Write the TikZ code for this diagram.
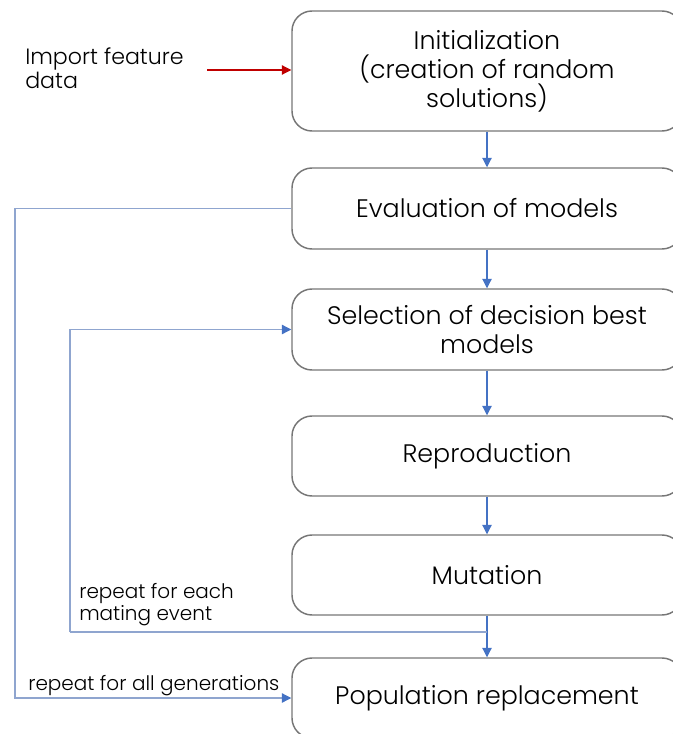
\documentclass[tikz,border=0pt]{standalone}
\usepackage{fontspec}
\setmainfont{Poppins Light}
\usetikzlibrary{arrows.meta}
\definecolor{flowblue}{HTML}{4472C4}
\definecolor{loopblue}{HTML}{8FA5CF}
\definecolor{importred}{HTML}{C00000}
\definecolor{boxgray}{HTML}{767676}
\tikzset{
  stage/.style={draw=boxgray, line width=1.1pt, rounded corners=15pt,
    minimum width=292.5pt, align=center, inner sep=0pt,
    font=\fontsize{19}{21.7}\selectfont},
  tip/.style={-{Triangle[length=7pt,width=7pt,color=flowblue]}},
  flowarrow/.style={draw=flowblue, line width=0.8pt, tip},
  loopline/.style={draw=loopblue, line width=0.9pt},
  note/.style={align=left, inner sep=0pt, font=\fontsize{15}{16.5}\selectfont}
}
\begin{document}
\begin{tikzpicture}[x=0.75pt,y=-0.75pt]
\useasboundingbox (0,0) rectangle (673,734);
\clip (0,0) rectangle (673,734);
% process stages
\node[stage, minimum height=90pt] (init) at (487,71)
  {Initialization\\(creation of random\\solutions)};
\node[stage, minimum height=60.75pt] (eval) at (487,208.5) {Evaluation of models};
\node[stage, minimum height=60.75pt] (sel) at (487,329.5) {Selection of decision best\\models};
\node[stage, minimum height=60pt] (repro) at (487,456) {Reproduction};
\node[stage, minimum height=60pt] (mut) at (487,575) {Mutation};
\node[stage, minimum height=60pt] (pop) at (487,698) {Population replacement};
% input
\node[note, anchor=base west, font=\fontsize{16.6}{18}\selectfont] (imp) at (25,89)
  {Import feature\\data};
\coordinate (impstart) at (207,70);
\draw[draw=importred, line width=0.8pt,
  -{Triangle[length=7pt,width=7pt,color=importred]}]
  (impstart) -- (init.west |- impstart);
% main flow
\draw[flowarrow] (init) -- (eval);
\draw[flowarrow] (eval) -- (sel);
\draw[flowarrow] (sel) -- (repro);
\draw[flowarrow] (repro) -- (mut);
\draw[flowarrow] (mut) -- (pop);
% loops
\coordinate (split) at (487,632);
\coordinate (inner) at (70,632);
\coordinate (outer) at (15,208.5);
\draw[loopline] (split) -- (inner);
\draw[loopline, tip] (inner) |- (sel.west);
\draw[loopline] (eval.west) -- (outer);
\draw[loopline, tip] (outer) |- (pop.west);
% loop labels
\node[note, anchor=base west] (lblin) at (79,620) {repeat for each\\mating event};
\node[note, anchor=base west] (lblout) at (28,690) {repeat for all generations};
\end{tikzpicture}
\end{document}
